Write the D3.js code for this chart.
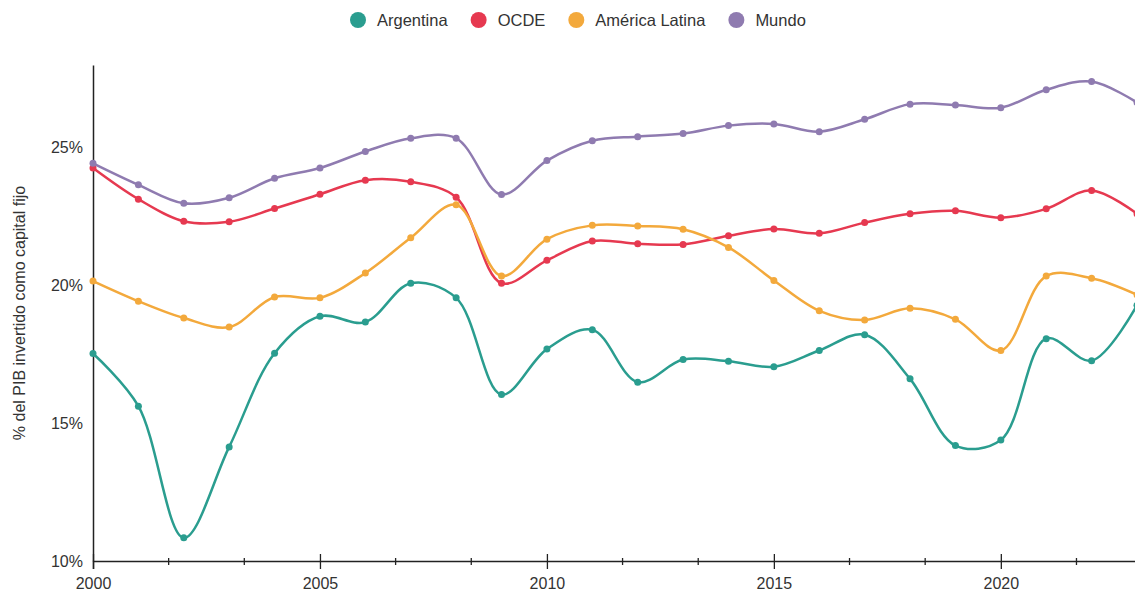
<!DOCTYPE html>
<html>
<head>
<meta charset="utf-8">
<script src="https://cdn.jsdelivr.net/npm/d3@7"></script>
<style>
  body { margin: 0; background: #fff; }
  svg { display: block; font-family: "Liberation Sans", Arial, sans-serif; }
</style>
</head>
<body>
<div id="chart"></div>
<script>
// años y series (% del PIB invertido como capital fijo)
const years = d3.range(2000, 2024);

const argentina = [17.53, 15.62, 10.84, 14.14, 17.54, 18.88, 18.67, 20.08, 19.55, 16.04,
  17.69, 18.39, 16.49, 17.31, 17.25, 17.05, 17.64, 18.21, 16.61, 14.19, 14.39, 18.07, 17.27, 19.28];
const ocde = [24.26, 23.13, 22.33, 22.31, 22.79, 23.31, 23.82, 23.76, 23.20, 20.08,
  20.91, 21.61, 21.51, 21.49, 21.80, 22.05, 21.89, 22.28, 22.60, 22.71, 22.46, 22.78, 23.45, 22.60];
const americaLatina = [20.16, 19.43, 18.82, 18.49, 19.58, 19.55, 20.45, 21.73, 22.93, 20.34,
  21.68, 22.18, 22.16, 22.04, 21.38, 20.18, 19.08, 18.75, 19.17, 18.77, 17.64, 20.34, 20.26, 19.66];
const mundo = [24.43, 23.65, 22.98, 23.18, 23.89, 24.26, 24.86, 25.34, 25.34, 23.30,
  24.53, 25.25, 25.40, 25.51, 25.80, 25.86, 25.58, 26.03, 26.58, 26.55, 26.45, 27.10, 27.40, 26.64];

const seriesNames = ["Argentina", "OCDE", "América Latina", "Mundo"];
const seriesValues = [argentina, ocde, americaLatina, mundo];
const seriesColors = ["#2a9d8f", "#e63950", "#f3a93c", "#8f7bb0"];

const yTicks = [10, 15, 20, 25];
const xTicks = [2000, 2005, 2010, 2015, 2020];

const width = 1135, height = 597;
const margin = { top: 65, right: -2, bottom: 36, left: 93 };
const fontSize = 16;

const svg = d3.select("#chart").append("svg")
    .attr("width", width)
    .attr("height", height);

const x = d3.scaleLinear()
    .domain([2000, 2023])
    .range([margin.left, width - margin.right]);

const y = d3.scaleLinear()
    .domain([10, 28])
    .range([height - margin.bottom, margin.top]);

// legend
const legend = svg.append("g").attr("transform", "translate(358,20)");
let lx = 0;
seriesNames.forEach((name, i) => {
    const g = legend.append("g").attr("transform", `translate(${lx},0)`);
    g.append("circle").attr("r", 8).attr("fill", seriesColors[i]);
    const t = g.append("text")
        .attr("x", 19)
        .attr("dy", "0.35em")
        .attr("font-size", 16.5)
        .attr("fill", "#333")
        .text(name);
    lx += 19 + t.node().getComputedTextLength() + 31;
});

// x axis: major ticks every 5 years, minor ticks in between
const xAxis = svg.append("g")
    .attr("transform", `translate(0,${y(10)})`)
    .call(d3.axisBottom(x).tickValues(xTicks).tickFormat(d3.format("d")).tickSize(8).tickPadding(9));
xAxis.select(".domain").attr("stroke", "#222").attr("stroke-width", 1.5);
xAxis.selectAll(".tick line").attr("y1", -7).attr("stroke", "#222").attr("stroke-width", 1.3);
xAxis.selectAll(".tick text").attr("font-size", fontSize).attr("fill", "#333").attr("font-family", null);

const minor = d3.range(0, 14).map(i => 2000 + i * 5 / 3).filter((d, i) => i % 3 !== 0);
svg.append("g")
    .selectAll("line")
    .data(minor)
    .join("line")
    .attr("x1", d => x(d)).attr("x2", d => x(d))
    .attr("y1", y(10) - 3).attr("y2", y(10) + 4)
    .attr("stroke", "#222")
    .attr("stroke-width", 1.3);

// y axis
const yAxis = svg.append("g")
    .attr("transform", `translate(${margin.left},0)`)
    .call(d3.axisLeft(y).tickValues(yTicks).tickFormat(d => d + "%").tickSize(0).tickPadding(10));
yAxis.select(".domain").attr("stroke", "#222").attr("stroke-width", 1.5);
yAxis.selectAll(".tick text").attr("font-size", fontSize).attr("fill", "#333").attr("font-family", null);

svg.append("text")
    .attr("transform", `translate(25,${(y(10) + y(28)) / 2}) rotate(-90)`)
    .attr("text-anchor", "middle")
    .attr("font-size", fontSize)
    .attr("fill", "#333")
    .text("% del PIB invertido como capital fijo");

// lines
const line = d3.line()
    .curve(d3.curveCatmullRom)
    .x((d, i) => x(years[i]))
    .y(d => y(d));

seriesValues.forEach((vals, i) => {
    const g = svg.append("g");
    g.append("path")
        .datum(vals)
        .attr("fill", "none")
        .attr("stroke", seriesColors[i])
        .attr("stroke-width", 2.5)
        .attr("d", line);
    g.selectAll("circle")
        .data(vals)
        .join("circle")
        .attr("cx", (d, j) => x(years[j]))
        .attr("cy", d => y(d))
        .attr("r", 3.5)
        .attr("fill", seriesColors[i]);
});
</script>
</body>
</html>
